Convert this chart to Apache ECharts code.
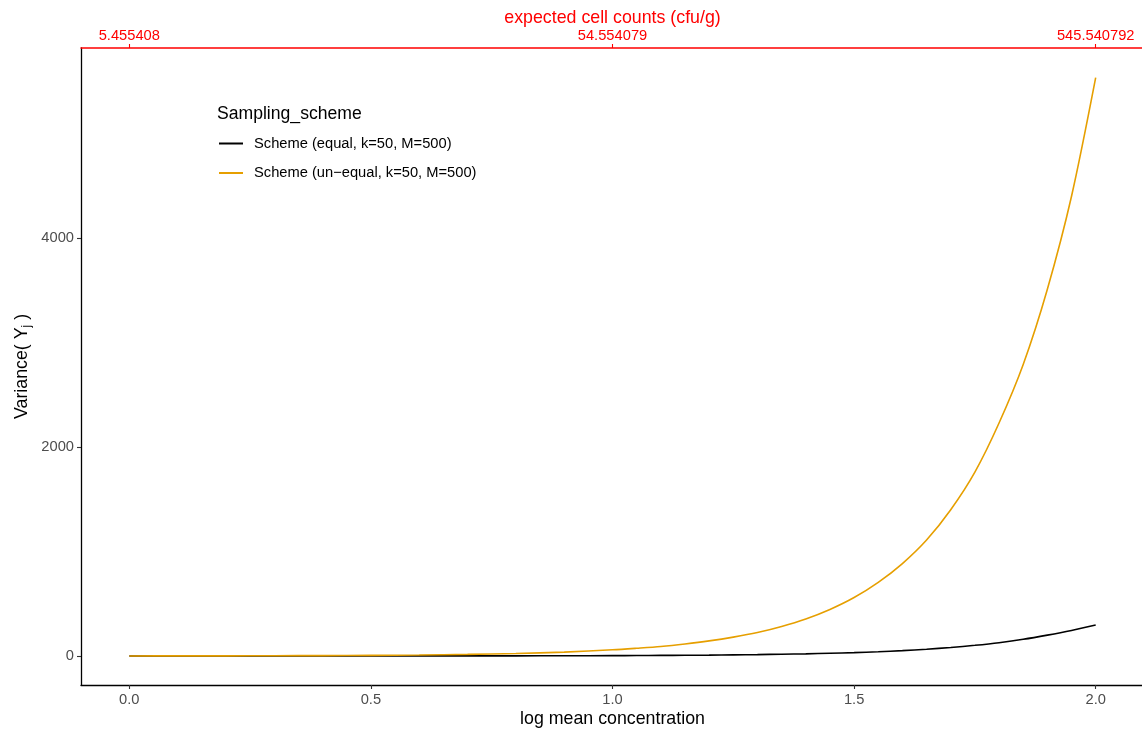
<!DOCTYPE html>
<html>
<head>
<meta charset="utf-8">
<script src="https://cdn.jsdelivr.net/npm/echarts@6/dist/echarts.min.js"></script>
<style>
html,body{margin:0;padding:0;background:#fff;}
#chart{width:1142px;height:731px;}
</style>
</head>
<body>
<div id="chart"></div>
<script>
// log mean concentration (x) values
const xValues = [0, 0.1, 0.2, 0.3, 0.4, 0.5, 0.6, 0.7, 0.8, 0.9, 1.0, 1.05, 1.1, 1.15, 1.2, 1.25, 1.3, 1.35, 1.4, 1.45, 1.5, 1.55, 1.6, 1.65, 1.7, 1.75, 1.8, 1.85, 1.9, 1.95, 2.0];
// Variance for equal scheme
const equalVar = [0.3, 0.4, 0.5, 0.7, 0.9, 1.1, 1.4, 1.7, 2, 2.8, 4, 5, 6, 7.5, 9, 11.5, 14, 17.5, 21, 27, 33, 41, 52, 65, 82, 103, 128, 160, 200, 245, 297];
// Variance for un-equal scheme
const unequalVar = [1, 1.5, 2, 3, 4.5, 6.5, 10, 16, 25, 38, 60, 75, 92, 116, 145, 181, 225, 283, 355, 446, 560, 705, 885, 1110, 1400, 1760, 2230, 2790, 3510, 4400, 5534];
const seriesNames = ['Scheme (equal, k=50, M=500)', 'Scheme (un\u2212equal, k=50, M=500)'];
const bottomTicks = [0, 0.5, 1, 1.5, 2];
const yTicks = [0, 2000, 4000];
const topTicks = [0, 1, 2];
const topTickLabels = ['5.455408', '54.554079', '545.540792'];

const chart = echarts.init(document.getElementById('chart'));
const font = 'Liberation Sans, Arial, Helvetica, sans-serif';
const pairs = arr => xValues.map((x, i) => [x, arr[i]]);
const tickFont = 14.7, titleFont = 17.8;

chart.setOption({
  animation: false,
  backgroundColor: '#fff',
  textStyle: { fontFamily: font },
  grid: { left: 81, right: -2, top: 48, bottom: 46, containLabel: false, outerBoundsMode: 'none' },
  graphic: [{
    type: 'text', left: 217, top: 105,
    style: { text: 'Sampling_scheme', fontFamily: font, fontSize: 17.6, fill: '#000' }
  }],
  legend: {
    orient: 'vertical', left: 214, top: 131,
    itemWidth: 24, itemHeight: 2, itemGap: 14.5,
    icon: 'rect',
    textStyle: { fontFamily: font, fontSize: tickFont, color: '#000', padding: [0, 0, 0, 6] },
    data: seriesNames
  },
  xAxis: [{
    type: 'value', position: 'bottom', min: -0.1, max: 2.1,
    name: 'log mean concentration', nameLocation: 'middle', nameGap: 25, nameMoveOverlap: false,
    nameTextStyle: { fontFamily: font, fontSize: titleFont, color: '#000' },
    axisLine: { show: true, onZero: false, lineStyle: { color: '#000', width: 1.3 } },
    axisTick: { show: true, length: 4, customValues: bottomTicks, lineStyle: { color: '#333', width: 1.1 } },
    axisLabel: { customValues: bottomTicks, margin: 7, fontFamily: font, fontSize: tickFont, color: '#4d4d4d',
      formatter: v => v.toFixed(1) },
    splitLine: { show: false }
  }, {
    type: 'value', position: 'top', min: -0.1, max: 2.1,
    name: 'expected cell counts (cfu/g)', nameLocation: 'middle', nameGap: 21, nameMoveOverlap: false,
    nameTextStyle: { fontFamily: font, fontSize: titleFont, color: '#ff0000' },
    axisLine: { show: true, onZero: false, lineStyle: { color: '#ff0000', width: 1.5 } },
    axisTick: { show: true, length: 4, customValues: topTicks, lineStyle: { color: '#ff0000', width: 1.1 } },
    axisLabel: { customValues: topTicks, margin: 5, fontFamily: font, fontSize: tickFont, color: '#ff0000',
      formatter: v => topTickLabels[topTicks.indexOf(Math.round(v))] },
    splitLine: { show: false }
  }],
  yAxis: {
    type: 'value', min: -277, max: 5818,
    name: 'Variance( Y{sub|j} )', nameLocation: 'middle', nameGap: 48, nameRotate: 90, nameMoveOverlap: false,
    nameTextStyle: { fontFamily: font, fontSize: titleFont, color: '#000',
      rich: { sub: { fontFamily: font, fontSize: 12, color: '#000', verticalAlign: 'bottom', padding: [9, 0, 0, 0] } } },
    axisLine: { show: true, onZero: false, lineStyle: { color: '#000', width: 1.3 } },
    axisTick: { show: true, length: 4, customValues: yTicks, lineStyle: { color: '#333', width: 1.1 } },
    axisLabel: { customValues: yTicks, margin: 7, fontFamily: font, fontSize: tickFont, color: '#4d4d4d',
      formatter: v => String(v) },
    splitLine: { show: false }
  },
  series: [{
    name: seriesNames[0], type: 'line', xAxisIndex: 0, data: pairs(equalVar),
    smooth: 0.3, symbol: 'none', lineStyle: { color: '#000000', width: 1.6 }, itemStyle: { color: '#000000' }
  }, {
    name: seriesNames[1], type: 'line', xAxisIndex: 0, data: pairs(unequalVar),
    smooth: 0.3, symbol: 'none', lineStyle: { color: '#E69F00', width: 1.6 }, itemStyle: { color: '#E69F00' }
  }]
});
</script>
</body>
</html>
